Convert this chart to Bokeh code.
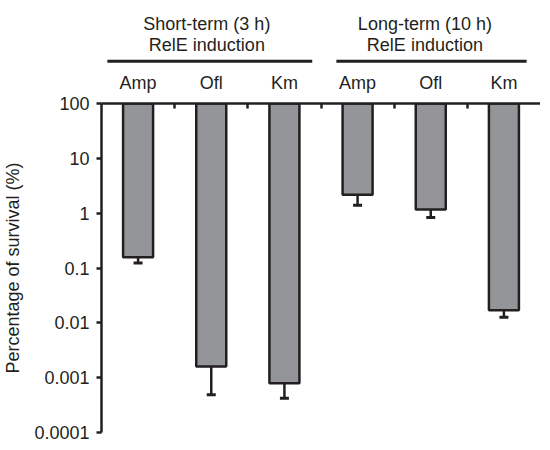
from bokeh.plotting import figure
from bokeh.layouts import column
from bokeh.models import Range1d, FixedTicker, ColumnDataSource, Whisker, TeeHead
from bokeh.core.properties import value
from bokeh.embed import file_html
from bokeh.resources import INLINE

# ---- data ----
drugs = ["Amp", "Ofl", "Km", "Amp", "Ofl", "Km"]
survival = [0.157, 0.0016, 0.00079, 2.16, 1.17, 0.017]
survival_low = [0.123, 0.00049, 0.00042, 1.39, 0.83, 0.0126]

group_titles = ["Short-term (3 h)", "Long-term (10 h)"]
group_subtitles = ["RelE induction", "RelE induction"]
group_start = [0.08, 3.21]
group_end = [2.88, 5.81]
group_center = [1.44, 4.42]

y_ticks = [0.0001, 0.001, 0.01, 0.1, 1, 10, 100]
y_tick_labels = ["0.0001", "0.001", "0.01", "0.1", "1", "10", "100"]

# ---- styles ----
INK = "#231f20"
BAR = "#939598"
FONT = "Liberation Sans"
FS = "18px"
W = 540
LEFT = 91
HDR_H = 69
MAIN_H = 373

n = len(drugs)
xs = [i + 0.5 for i in range(n)]
bounds = [i for i in range(1, n)]
x_range = Range1d(0, n)

src = ColumnDataSource(dict(x=xs, val=survival, low=survival_low, drug=drugs))

# ---- header (group labels + group lines) ----
hdr = figure(width=W, height=HDR_H, x_range=x_range, y_range=Range1d(0, HDR_H),
             x_axis_type=None, y_axis_type=None, toolbar_location=None,
             output_backend="svg", min_border_left=LEFT, min_border_right=0,
             min_border_top=0, min_border_bottom=0, outline_line_color=None)
hdr.segment(x0=group_start, x1=group_end, y0=8.3, y1=8.3, line_width=3, line_color=INK)
hdr.text(x=group_center, y=46, text=group_titles, text_font=value(FONT),
         text_font_size=FS, text_align="center", text_baseline="middle", text_color=INK)
hdr.text(x=group_center, y=25, text=group_subtitles, text_font=value(FONT),
         text_font_size=FS, text_align="center", text_baseline="middle", text_color=INK)

# ---- main chart ----
p = figure(width=W, height=MAIN_H, x_range=x_range, y_range=Range1d(1e-4, 100),
           y_axis_type="log", x_axis_location="above", toolbar_location=None,
           output_backend="svg", min_border_left=LEFT, min_border_right=0,
           min_border_top=34, min_border_bottom=10, outline_line_color=None)
p.xgrid.visible = False
p.ygrid.visible = False

p.vbar(x="x", width=0.41, top=100, bottom="val", source=src,
       fill_color=BAR, line_color=INK, line_width=2.5)

w = Whisker(base="x", upper="val", lower="low", source=src,
            line_color=INK, line_width=2.5, upper_head=None,
            lower_head=TeeHead(size=9, line_color=INK, line_width=3))
p.add_layout(w)

xa = p.xaxis[0]
xa.ticker = FixedTicker(ticks=xs, minor_ticks=bounds)
xa.major_label_overrides = {x: d for x, d in zip(xs, drugs)}
xa.major_tick_in = 0
xa.major_tick_out = 0
xa.minor_tick_in = 5
xa.minor_tick_out = 0
xa.minor_tick_line_width = 2.5
xa.minor_tick_line_color = INK
xa.axis_line_width = 2.5
xa.axis_line_color = INK
xa.major_label_standoff = 11
xa.major_label_text_font = FONT
xa.major_label_text_font_size = FS
xa.major_label_text_color = INK

ya = p.yaxis[0]
ya.ticker = FixedTicker(ticks=y_ticks)
ya.major_label_overrides = dict(zip(y_ticks, y_tick_labels))
ya.major_tick_in = 0
ya.major_tick_out = 5
ya.minor_tick_in = 0
ya.minor_tick_out = 0
ya.major_tick_line_width = 2.5
ya.major_tick_line_color = INK
ya.axis_line_width = 2.5
ya.axis_line_color = INK
ya.major_label_standoff = 7
ya.major_label_text_font = FONT
ya.major_label_text_font_size = FS
ya.major_label_text_color = INK
ya.axis_label = "Percentage of survival (%)"
ya.axis_label_text_font = FONT
ya.axis_label_text_font_size = FS
ya.axis_label_text_font_style = "normal"
ya.axis_label_text_color = INK
ya.axis_label_standoff = 8

layout = column(hdr, p, spacing=0)
open("out.html", "w").write(file_html(layout, INLINE))
